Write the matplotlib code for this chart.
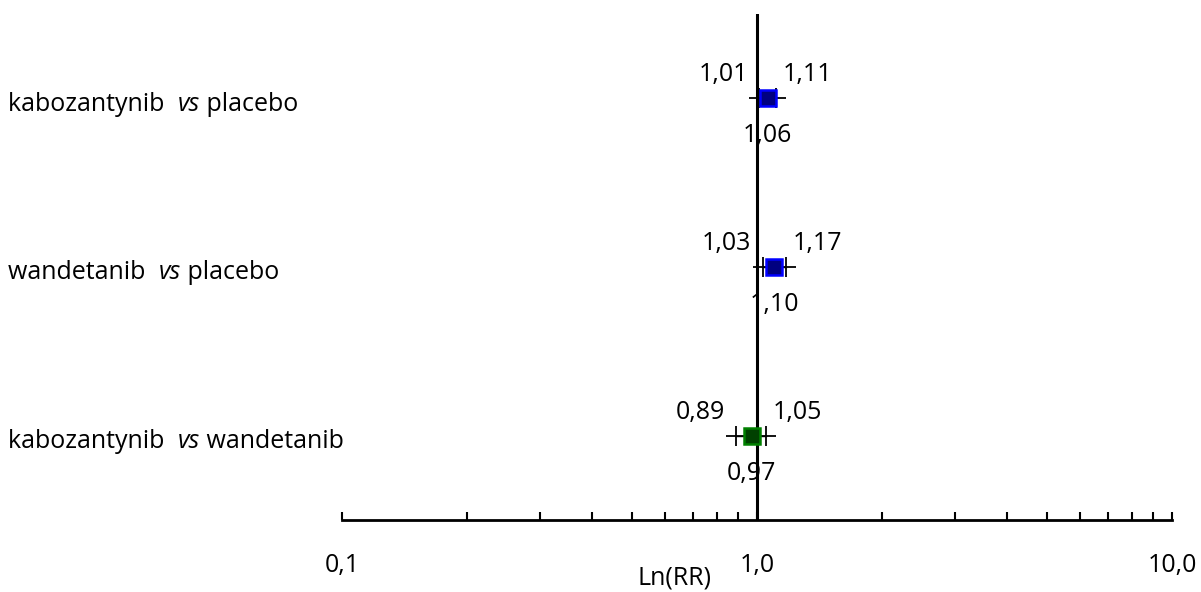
import matplotlib
matplotlib.use("Agg")
import matplotlib.pyplot as plt
from matplotlib.ticker import FixedLocator, LogLocator, NullFormatter

plt.rcParams['font.family'] = ['Open Sans', 'DejaVu Sans']

# comparisons, top to bottom
drug_a = ["kabozantynib", "wandetanib", "kabozantynib"]
drug_b = ["placebo", "placebo", "wandetanib"]
rr = [1.06, 1.10, 0.97]
ci_low = [1.01, 1.03, 0.89]
ci_high = [1.11, 1.17, 1.05]
face_colors = ["#000080", "#000080", "#004000"]
edge_colors = ["#0000ff", "#0000ff", "#008000"]
x_ticks = [0.1, 1.0, 10.0]
x_tick_labels = ["0,1", "1,0", "10,0"]

FS = 18


def fmt(v):
    return f"{v:.2f}".replace(".", ",")


fig = plt.figure(figsize=(12.01, 5.92), dpi=100)
ax = fig.add_axes([0.285, 0.1216, 0.691, 0.8547])
ax.set_xscale("log")
ax.set_xlim(0.1, 10.0)
ax.set_ylim(0.5, 3.5)

# line of no effect
ax.axvline(1.0, color="black", lw=2.2, zorder=1)

rows = [3, 2, 1]
for i, y in enumerate(rows):
    ax.plot([ci_low[i], ci_high[i]], [y, y], color="black", lw=1, zorder=2)
    ax.plot([ci_low[i], ci_high[i]], [y, y], ls="none", marker="+",
            ms=15, mew=1.3, color="black", zorder=3)
    ax.plot(rr[i], y, ls="none", marker="s", ms=11.5, mfc=face_colors[i],
            mec=edge_colors[i], mew=1.8, zorder=4)
    ax.annotate(fmt(ci_low[i]), (ci_low[i], y), xytext=(-8, 17),
                textcoords="offset points", ha="right", va="center", fontsize=FS)
    ax.annotate(fmt(ci_high[i]), (ci_high[i], y), xytext=(5, 17),
                textcoords="offset points", ha="left", va="center", fontsize=FS)
    ax.annotate(fmt(rr[i]), (rr[i], y), xytext=(0, -27),
                textcoords="offset points", ha="center", va="center", fontsize=FS)

# row labels with italic "vs"
fig.canvas.draw()
renderer = fig.canvas.get_renderer()
for i, y in enumerate(rows):
    yf = ax.transData.transform((1.0, y))[1] / fig.bbox.height - 0.01
    parts = [(drug_a[i] + "  ", "normal"), ("vs", "italic"), (" " + drug_b[i], "normal")]
    x0 = 8 / 1201
    for txt, style in parts:
        t = fig.text(x0, yf, txt, fontsize=FS, style=style, va="center", ha="left")
        bb = t.get_window_extent(renderer)
        x0 = bb.x1 / fig.bbox.width

for s in ["top", "right", "left"]:
    ax.spines[s].set_visible(False)
ax.spines["bottom"].set_linewidth(2)
ax.set_yticks([])
ax.xaxis.set_major_locator(FixedLocator(x_ticks))
ax.set_xticklabels(x_tick_labels)
ax.xaxis.set_minor_locator(LogLocator(base=10, subs=range(2, 10)))
ax.xaxis.set_minor_formatter(NullFormatter())
ax.tick_params(axis="x", which="both", direction="in", length=6, width=1.5,
               labelsize=FS, pad=24)

fig.text(675 / 1201, 1 - 578 / 592, "Ln(RR)", fontsize=FS, ha="center", va="center")

fig.savefig("out.png", dpi=100)
